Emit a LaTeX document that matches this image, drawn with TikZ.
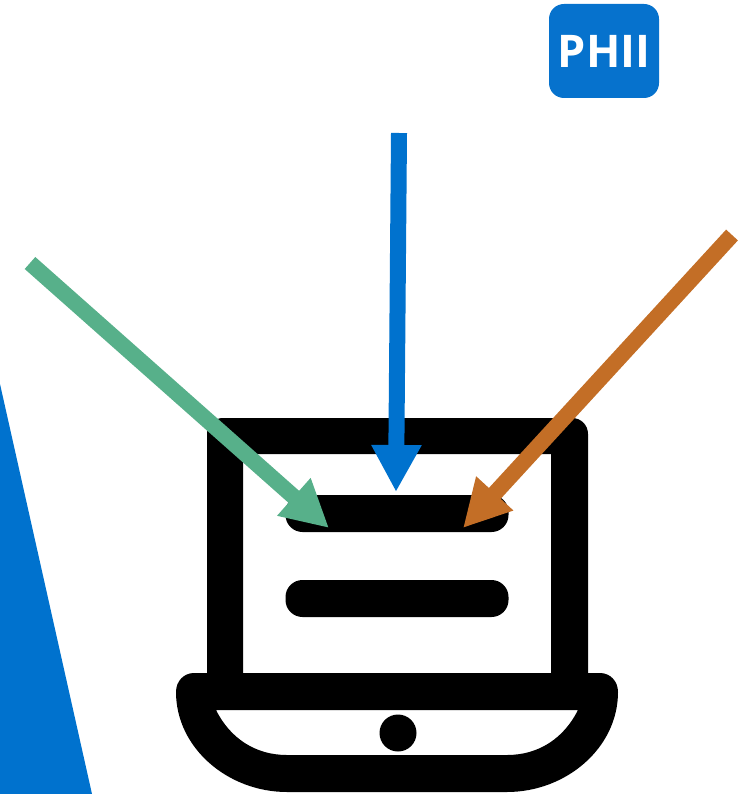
\documentclass[tikz,border=0pt]{standalone}
\usepackage{fontspec}
\newfontfamily\logofont{Open Sans}
\usetikzlibrary{
  arrows.meta
}
\definecolor{badgecolor}{RGB}{6, 114, 205}
\definecolor{wedgecolor}{RGB}{0, 114, 206}
\definecolor{bluearrowcolor}{RGB}{0, 114, 206}
\definecolor{greenarrowcolor}{RGB}{87, 176, 138}
\definecolor{orangearrowcolor}{RGB}{195, 110, 38}
\tikzset{
badge/.style={
  fill=badgecolor,
  rounded corners=15pt,
  minimum width=110pt,
  minimum height=94pt,
  inner sep=0pt,
  font=\logofont\bfseries\fontsize{45}{45}\selectfont,
  text=white
},
screenbar/.style={
  fill=black,
  rounded corners=17pt,
  minimum width=223pt,
  minimum height=37pt,
  inner sep=0pt
},
trackpad/.style={
  circle,
  fill=black,
  minimum size=37pt,
  inner sep=0pt
},
bigarrow/.style={
  -{Triangle[length=47pt,width=47pt]},
  line width=16pt
}
}
\begin{document}
\begin{tikzpicture}[x=1pt,y=-1pt]
  \useasboundingbox (0,0) rectangle (741,794);
  % wedge at the left edge
  \fill[wedgecolor] (0,384) -- (92,794) -- (0,794) -- cycle;

  \node[badge] (logo) at (604,51) {PHII};

  % laptop
  \fill[black, even odd rule]
    (207,673) -- (207,434) .. controls (207,425) and (214,418) .. (223,418) -- (572,418)
    .. controls (581,418) and (588,425) .. (588,434) -- (588,673) -- cycle
    (243,454) rectangle (551,673);
  \fill[black, even odd rule]
    (194,673) -- (600,673) .. controls (610,673) and (618,681) .. (618,692)
    .. controls (618,748) and (566,792) .. (507,792) -- (287,792)
    .. controls (228,792) and (176,748) .. (176,692)
    .. controls (176,681) and (184,673) .. (194,673) -- cycle
    (216,710) -- (578,710) .. controls (564,738) and (539,755) .. (507,755)
    -- (287,755) .. controls (255,755) and (230,738) .. (216,710) -- cycle;
  \node[trackpad] (pad) at (398,733) {};
  \node[screenbar] (topbar) at (397,513.5) {};
  \node[screenbar] (lowbar) at (397,598.5) {};

  % arrows
  \coordinate (greentail) at (30,263);
  \coordinate (greentip) at (329,528);
  \coordinate (bluetail) at (399,133);
  \coordinate (bluetip) at (396,492);
  \coordinate (orangetail) at (732,235);
  \coordinate (orangetip) at (463,528);
  \draw[bigarrow, greenarrowcolor] (greentail) -- (greentip);
  \draw[bigarrow, bluearrowcolor] (bluetail) -- (bluetip);
  \draw[bigarrow, orangearrowcolor] (orangetail) -- (orangetip);
\end{tikzpicture}
\end{document}
